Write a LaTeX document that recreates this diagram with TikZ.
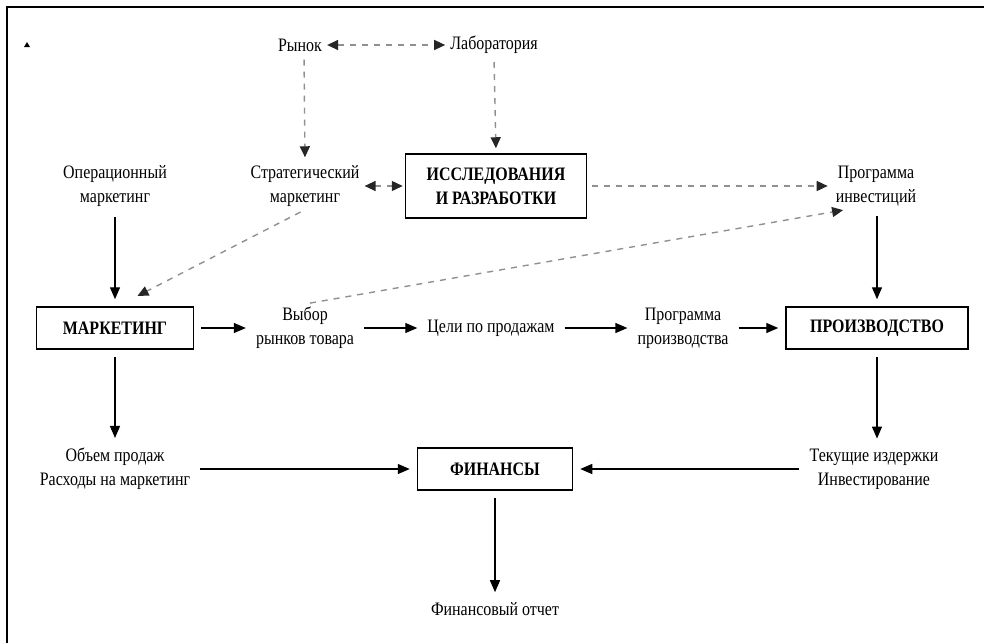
\documentclass[tikz,border=0pt]{standalone}
\usepackage{fontspec}
\setmainfont[FakeStretch=0.84]{Liberation Serif}
\usetikzlibrary{arrows.meta}

\begin{document}
\begin{tikzpicture}[x=1pt,y=-1pt,
    font=\fontsize{19}{24}\selectfont,
    box/.style={draw,line width=1.5pt,font=\fontsize{19}{24}\selectfont\bfseries,align=center,minimum height=42pt,inner sep=2pt},
    txt/.style={align=center,inner sep=3pt},
    arr/.style={-{Triangle[length=12pt,width=10pt]},line width=1.3pt,shorten <=7pt,shorten >=7pt},
    darr/.style={-{Triangle[length=11pt,width=10pt,color=black!85]},line width=1.4pt,gray!75!black!70,dash pattern=on 6pt off 6pt,shorten <=5pt,shorten >=5pt},
    ddarr/.style={darr,{Triangle[length=11pt,width=10pt,color=black!85]}-{Triangle[length=11pt,width=10pt,color=black!85]},shorten <=2pt,shorten >=2pt}]
    \useasboundingbox (0,0) rectangle (984,643);
    \draw[line width=1.6pt] (7,643) -- (7,7) -- (984,7);
    \fill (24,47) -- (30,47) -- (27,42) -- cycle;

    % Nodes %
    \node[txt] (rynok) at (300,45) {Рынок};
    \node[txt] (lab) at (494,45) {Лаборатория};
    \node[txt] (oper) at (115,186) {Операционный\\маркетинг};
    \node[txt] (strat) at (305,186) {Стратегический\\маркетинг};
    \node[box,minimum width=181pt,minimum height=64pt] (rd) at (496,186) {ИССЛЕДОВАНИЯ\\И РАЗРАБОТКИ};
    \node[txt] (invest) at (876,186) {Программа\\инвестиций};
    \node[box,minimum width=157pt] (mark) at (115,328) {МАРКЕТИНГ};
    \node[txt] (vybor) at (305,328) {Выбор\\рынков товара};
    \node[txt] (celi) at (491,328) {Цели по продажам};
    \node[txt] (progpr) at (683,328) {Программа\\производства};
    \node[box,minimum width=182pt] (proizv) at (877,328) {ПРОИЗВОДСТВО};
    \node[txt] (obem) at (115,469) {Объем продаж\\Расходы на маркетинг};
    \node[box,minimum width=155pt] (fin) at (495,469) {ФИНАНСЫ};
    \node[txt] (tek) at (874,469) {Текущие издержки\\Инвестирование};
    \node[txt] (otchet) at (495,609) {Финансовый отчет};

    % Dashed links %
    \draw[ddarr] (rynok) -- (lab);
    \draw[darr] ([xshift=4pt]rynok.south) -- (strat.north);
    \draw[darr] (lab.south) -- (rd.north);
    \draw[ddarr] (strat) -- (rd);
    \draw[darr] (rd) -- (invest);
    \draw[darr] (strat.south) -- ([xshift=18pt,yshift=8pt]mark.north);
    \draw[darr] (vybor.north) -- ([xshift=-28pt]invest.south);

    % Solid links %
    \draw[arr] (oper) -- (mark);
    \draw[arr] (invest.south -| proizv) -- (proizv);
    \draw[arr] (mark) -- (vybor);
    \draw[arr] (vybor) -- (celi);
    \draw[arr] (celi) -- (progpr);
    \draw[arr] (progpr) -- (proizv);
    \draw[arr] (mark) -- (obem);
    \draw[arr] (proizv) -- (proizv |- tek.north);
    \draw[arr] (obem) -- (fin);
    \draw[arr] (tek) -- (fin);
    \draw[arr] (fin) -- (otchet);
\end{tikzpicture}
\end{document}
